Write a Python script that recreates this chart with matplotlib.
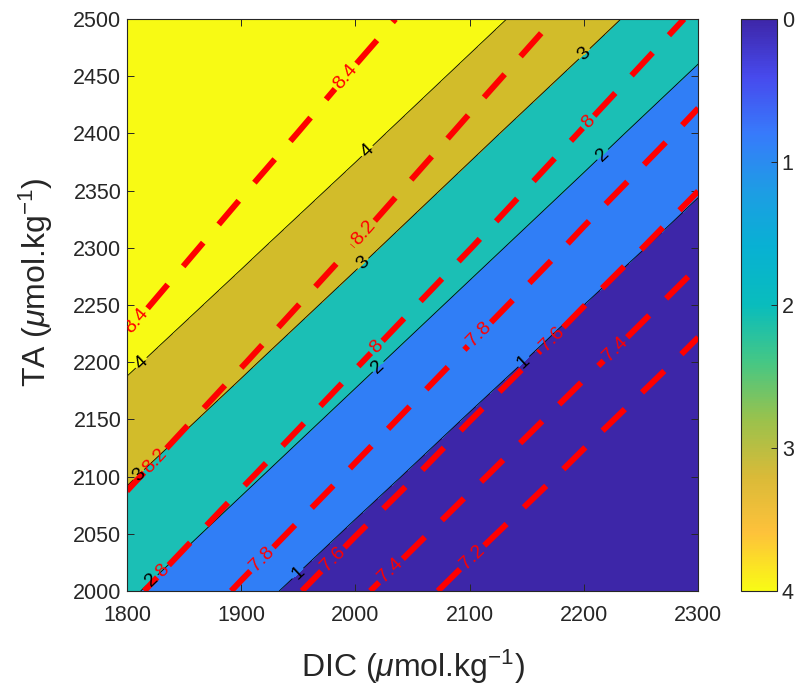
import matplotlib
matplotlib.use('Agg')
import matplotlib.pyplot as plt
import numpy as np
from matplotlib.colors import LinearSegmentedColormap, Normalize
from matplotlib.cm import ScalarMappable

plt.rcParams['font.family'] = ['Liberation Sans', 'DejaVu Sans']
plt.rcParams['mathtext.fontset'] = 'custom'
plt.rcParams['mathtext.rm'] = 'Liberation Sans'
plt.rcParams['mathtext.it'] = 'Liberation Sans:italic'

# grid nodes
dic = [1800, 1900, 2000, 2100, 2200, 2300]
ta = [2000, 2100, 2200, 2300, 2400, 2500]

# saturation state (rows = TA, cols = DIC)
omega = [
    [2.10, 1.27, 0.46, 0.25, 0.15, 0.10],
    [3.08, 2.15, 1.32, 0.52, 0.30, 0.20],
    [4.13, 3.14, 2.20, 1.37, 0.58, 0.40],
    [5.24, 4.20, 3.20, 2.25, 1.42, 0.64],
    [6.30, 5.30, 4.27, 3.25, 2.30, 1.46],
    [7.40, 6.40, 5.40, 4.33, 3.31, 2.35],
]

# pH (rows = TA, cols = DIC)
ph = [
    [8.040, 7.777, 7.444, 7.106, 6.786, 6.475],
    [8.223, 8.027, 7.770, 7.448, 7.119, 6.803],
    [8.368, 8.209, 8.015, 7.762, 7.451, 7.130],
    [8.492, 8.346, 8.194, 8.004, 7.756, 7.453],
    [8.609, 8.470, 8.327, 8.177, 7.990, 7.750],
    [8.727, 8.584, 8.449, 8.309, 8.161, 7.977],
]

omega_levels = [1, 2, 3, 4]
ph_levels = [7.2, 7.4, 7.6, 7.8, 8.0, 8.2, 8.4]
fill_levels = [0, 1, 2, 3, 4, 10]
fill_colors = ['#3d26a8', '#307ef6', '#1bbfb5', '#d2bc2a', '#f8fa14']

omega_label_pos = [(1812, 2200), (2010, 2385), (1810, 2102), (2005, 2288), (2200, 2470),
                   (1820, 2012), (2018, 2198), (2213, 2385), (1950, 2015), (2144, 2204)]
ph_label_pos = [(1995, 2447), (1810, 2235), (2007, 2313), (1827, 2112), (2205, 2409),
                (2019, 2213), (1835, 2014), (2111, 2222), (1919, 2027), (2173, 2219),
                (1984, 2024), (2227, 2212), (2028, 2021), (2102, 2030)]

parula = LinearSegmentedColormap.from_list('parula', [
    (0.00, (0.2422, 0.1504, 0.6603)),
    (0.10, (0.2780, 0.2900, 0.9300)),
    (0.20, (0.2170, 0.4800, 0.9850)),
    (0.30, (0.1150, 0.6150, 0.8950)),
    (0.40, (0.0300, 0.6950, 0.8250)),
    (0.50, (0.0350, 0.7400, 0.7400)),
    (0.60, (0.2700, 0.7800, 0.5200)),
    (0.70, (0.6000, 0.7600, 0.3000)),
    (0.80, (0.8500, 0.7300, 0.2200)),
    (0.90, (0.9950, 0.7600, 0.2300)),
    (1.00, (0.9769, 0.9839, 0.0805)),
])

X, Y = np.meshgrid(dic, ta)
Z_om = np.array(omega)
Z_ph = np.array(ph)

fig = plt.figure(figsize=(7.98, 6.86), dpi=100)
ax = fig.add_axes([0.159, 0.1385, 0.716, 0.8338])
cax = fig.add_axes([0.9286, 0.1385, 0.0451, 0.8338])

ax.contourf(X, Y, Z_om, levels=fill_levels, colors=fill_colors)
cs_om = ax.contour(X, Y, Z_om, levels=omega_levels, colors='black', linewidths=0.6)
ax.clabel(cs_om, fmt=lambda v: '%g' % v, fontsize=14, inline=True,
          manual=omega_label_pos, inline_spacing=2)

cs_ph = ax.contour(X, Y, Z_ph, levels=ph_levels, colors='#ff0000', linewidths=4.3,
                   linestyles=[(0, (5.2, 4.0))])
ax.clabel(cs_ph, fmt=lambda v: '%g' % v, fontsize=14, inline=True, colors='#ff0000',
          manual=ph_label_pos, inline_spacing=3)

ax.set_xlim(1800, 2300)
ax.set_ylim(2000, 2500)
ax.set_xticks(range(1800, 2301, 100))
ax.set_yticks(range(2000, 2501, 50))
ax.tick_params(direction='in', top=True, right=True, length=5, width=0.7,
               labelsize=15.5, colors='#262626')
ax.tick_params(axis='x', pad=10)
ax.tick_params(axis='y', pad=4)
for s in ax.spines.values():
    s.set_color('#262626')
    s.set_linewidth(0.8)
ax.set_xlabel(r'DIC ($\mu$mol.kg$^{-1}$)', fontsize=23, color='#262626', labelpad=16)
ax.set_ylabel(r'TA ($\mu$mol.kg$^{-1}$)', fontsize=23, color='#262626')
ax.yaxis.set_label_coords(-0.126, 0.54)

sm = ScalarMappable(norm=Normalize(0, 4), cmap=parula)
cb = fig.colorbar(sm, cax=cax, ticks=[0, 1, 2, 3, 4])
cb.ax.invert_yaxis()
cb.ax.tick_params(direction='in', length=4, width=0.7, labelsize=15.5, colors='#262626')
cb.outline.set_edgecolor('#262626')
cb.outline.set_linewidth(0.8)

fig.savefig('out.png', dpi=100)
